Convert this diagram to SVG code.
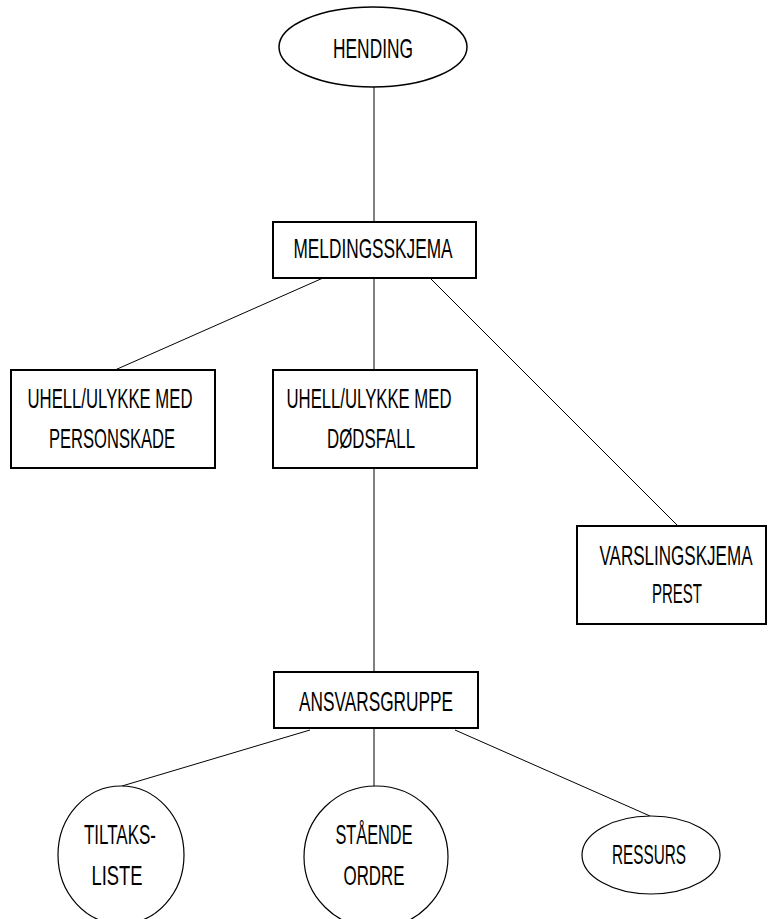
<svg xmlns="http://www.w3.org/2000/svg" width="768" height="919" viewBox="0 0 768 919">
<style>
.box{fill:#fff;stroke:#000;stroke-width:2}
.ell{fill:#fff;stroke:#000;stroke-width:1.5}
.ell2{fill:#fff;stroke:#000;stroke-width:1.2}
.ln{stroke:#000;stroke-width:1;fill:none}
.t{font-family:"Liberation Sans",Arial,sans-serif;font-size:28px;fill:#000;text-anchor:middle}
</style>
<rect width="768" height="919" fill="#fff"/>
<g id="connectors">
<line class="ln" x1="374" y1="87" x2="374" y2="222"/>
<line class="ln" x1="323" y1="278" x2="115" y2="370"/>
<line class="ln" x1="374" y1="278" x2="374" y2="370"/>
<line class="ln" x1="430" y1="278" x2="678" y2="526"/>
<line class="ln" x1="374" y1="468" x2="374" y2="672"/>
<line class="ln" x1="310" y1="730" x2="122" y2="786"/>
<line class="ln" x1="374" y1="728" x2="374" y2="786"/>
<line class="ln" x1="455" y1="730" x2="650" y2="816"/>
</g>
<g id="hending">
<ellipse class="ell" cx="373" cy="47" rx="94" ry="40"/>
<text class="t" x="373" y="58" textLength="80" lengthAdjust="spacingAndGlyphs">HENDING</text>
</g>
<g id="meldingsskjema">
<rect class="box" x="273" y="222" width="203" height="56"/>
<text class="t" x="373" y="258" textLength="159" lengthAdjust="spacingAndGlyphs">MELDINGSSKJEMA</text>
</g>
<g id="personskade">
<rect class="box" x="11" y="370" width="204" height="98"/>
<text class="t" x="110" y="408" textLength="165" lengthAdjust="spacingAndGlyphs">UHELL/ULYKKE MED</text>
<text class="t" x="112" y="448" textLength="126" lengthAdjust="spacingAndGlyphs">PERSONSKADE</text>
</g>
<g id="dodsfall">
<rect class="box" x="273" y="370" width="204" height="98"/>
<text class="t" x="369" y="408" textLength="165" lengthAdjust="spacingAndGlyphs">UHELL/ULYKKE MED</text>
<text class="t" x="371" y="448" textLength="88" lengthAdjust="spacingAndGlyphs">DØDSFALL</text>
</g>
<g id="varslingskjema">
<rect class="box" x="577" y="526" width="189" height="98"/>
<text class="t" x="676" y="565" textLength="153" lengthAdjust="spacingAndGlyphs">VARSLINGSKJEMA</text>
<text class="t" x="677" y="603" textLength="50" lengthAdjust="spacingAndGlyphs">PREST</text>
</g>
<g id="ansvarsgruppe">
<rect class="box" x="274" y="672" width="204" height="56"/>
<text class="t" x="376" y="711" textLength="154" lengthAdjust="spacingAndGlyphs">ANSVARSGRUPPE</text>
</g>
<g id="tiltaksliste">
<ellipse class="ell2" cx="121" cy="855" rx="63" ry="69"/>
<text class="t" x="120" y="844" textLength="72" lengthAdjust="spacingAndGlyphs">TILTAKS-</text>
<text class="t" x="117" y="885" textLength="51" lengthAdjust="spacingAndGlyphs">LISTE</text>
</g>
<g id="staende-ordre">
<ellipse class="ell2" cx="376" cy="857" rx="72" ry="71"/>
<text class="t" x="374" y="844" textLength="77" lengthAdjust="spacingAndGlyphs">STÅENDE</text>
<text class="t" x="374" y="885" textLength="61" lengthAdjust="spacingAndGlyphs">ORDRE</text>
</g>
<g id="ressurs">
<ellipse class="ell2" cx="651" cy="855" rx="69" ry="39"/>
<text class="t" x="649" y="864" textLength="74" lengthAdjust="spacingAndGlyphs">RESSURS</text>
</g>
</svg>
